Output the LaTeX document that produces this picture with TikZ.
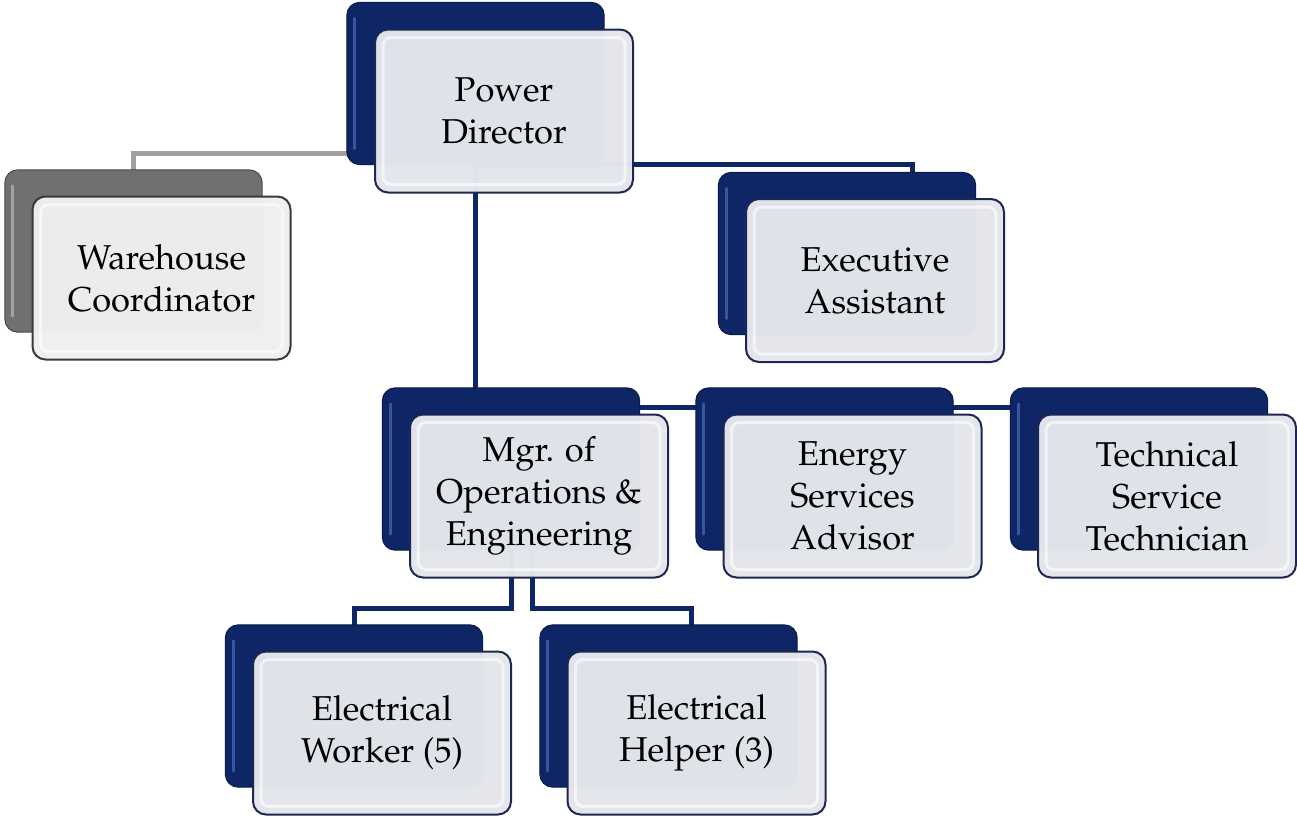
\documentclass[tikz,border=0pt]{standalone}
\usepackage[T1]{fontenc}
\usepackage{mathpazo}
\definecolor{navy}{HTML}{0E2566}
\definecolor{navyd}{HTML}{0A1A4A}
\definecolor{navyhi}{HTML}{4A6BB8}
\definecolor{frontc}{HTML}{E4E6EC}
\definecolor{frontb}{HTML}{1C2752}
\definecolor{gline}{HTML}{A0A0A0}
\definecolor{gbackc}{HTML}{707070}
\definecolor{gbackd}{HTML}{4A4A4A}
\definecolor{ghi}{HTML}{B8B8B8}
\definecolor{gfrontc}{HTML}{EFEFEF}
\definecolor{gfrontb}{HTML}{3A3A3A}
\newcommand{\frontbevel}[1]{\draw[white,line width=3pt,opacity=0.6,rounded corners=8pt] ([shift={(9pt,-9pt)}]#1.north west) rectangle ([shift={(-9pt,9pt)}]#1.south east);}
\newcommand{\backbevel}[2]{\draw[#2,line width=3pt,opacity=0.7,line cap=round] ([shift={(8pt,-16pt)}]#1.north west) -- ([shift={(8pt,16pt)}]#1.south west);}
\begin{document}
\begin{tikzpicture}[x=1pt,y=-1pt,
 conn/.style={draw=navy,line width=5pt},
 gconn/.style={draw=gline,line width=5pt},
 backbox/.style={rounded corners=13pt,minimum width=257pt,minimum height=162pt,inner sep=0pt},
 frontbox/.style={rounded corners=13pt,minimum width=258pt,minimum height=163pt,fill=frontc,fill opacity=0.98,text opacity=1,draw=frontb,line width=2pt,align=center,font=\fontsize{34.5}{42}\selectfont,inner sep=0pt,text=black},
 gfrontbox/.style={frontbox,fill=gfrontc,draw=gfrontb},
]
\useasboundingbox (0,0) rectangle (1297,819);
% back box frames (filled after the connectors)
\path
 (475.5,83.5) node[backbox] (pdb) {}
 (133.5,251) node[backbox] (wb) {}
 (847,253.5) node[backbox] (exb) {}
 (511,469) node[backbox] (mb) {}
 (824.5,469) node[backbox] (enb) {}
 (1139,469) node[backbox] (tb) {}
 (354,706) node[backbox] (ewb) {}
 (668.5,706) node[backbox] (ehb) {};
% connectors
\draw[gconn] (wb.north) |- ([yshift=11pt]pdb.south west);
\draw[conn] (pdb.south) -| ([xshift=65pt]exb.north);
\draw[conn] (pdb.south) -- (pdb.south |- mb.north);
\draw[conn] ([yshift=-20pt]mb.north east) -- ([yshift=-20pt]tb.north west);
\draw[conn] (mb.south) |- ([yshift=16pt]ewb.north) -- (ewb.north);
\draw[conn] ([xshift=21pt]mb.south) |- ([xshift=23pt,yshift=16pt]ehb.north) -- ([xshift=23pt]ehb.north);
% back boxes drawn
\foreach \b in {pdb,exb,mb,enb,tb,ewb,ehb}{
 \fill[navy,rounded corners=13pt] (\b.north west) rectangle (\b.south east);
 \draw[navyd,line width=1pt,rounded corners=13pt] (\b.north west) rectangle (\b.south east);
 \backbevel{\b}{navyhi}
}
\fill[gbackc,rounded corners=13pt] (wb.north west) rectangle (wb.south east);
\draw[gbackd,line width=1pt,rounded corners=13pt] (wb.north west) rectangle (wb.south east);
\backbevel{wb}{ghi}
% front boxes
\node[frontbox] (pd) at (504,111) {Power\\Director};
\node[gfrontbox] (wh) at (161.5,278) {Warehouse\\Coordinator};
\node[frontbox] (ex) at (875,280.5) {Executive\\Assistant};
\node[frontbox] (mg) at (539,496) {Mgr. of\\Operations \&\\Engineering};
\node[frontbox] (en) at (852.5,496) {Energy\\Services\\Advisor};
\node[frontbox] (tt) at (1167,496) {Technical\\Service\\Technician};
\node[frontbox] (ew) at (382,733) {Electrical\\Worker (5)};
\node[frontbox] (eh) at (696.5,733) {Electrical\\Helper (3)};
\foreach \f in {pd,wh,ex,mg,en,tt,ew,eh}{\frontbevel{\f}}
\end{tikzpicture}
\end{document}
